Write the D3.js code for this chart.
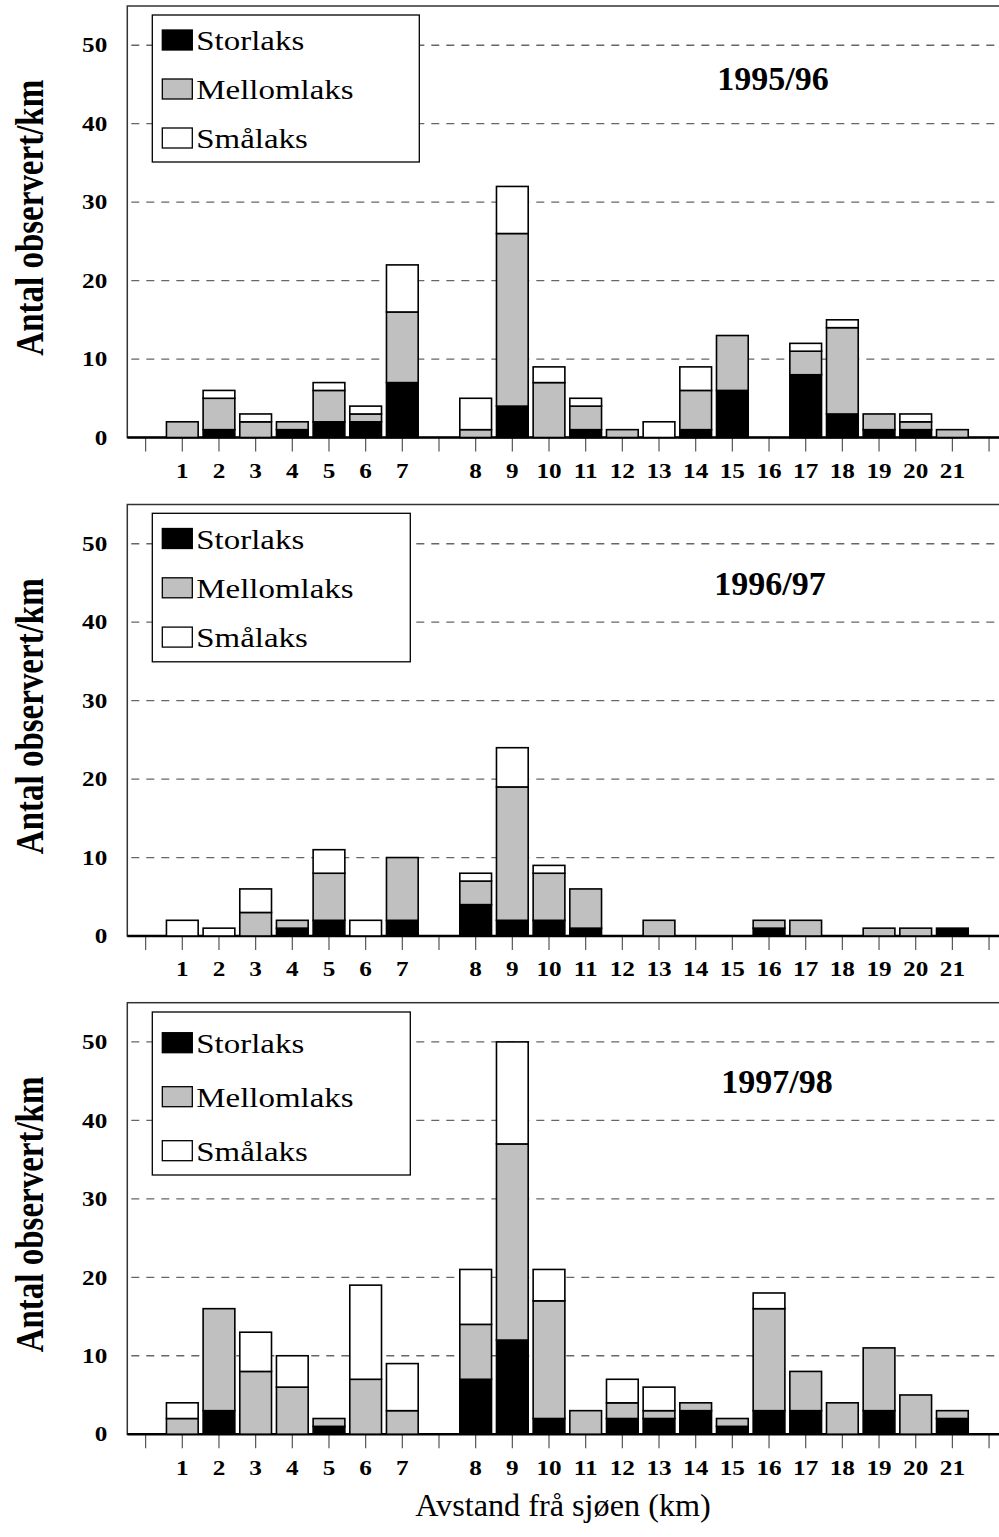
<!DOCTYPE html>
<html>
<head>
<meta charset="utf-8">
<title>Antal observert laks</title>
<script src="https://cdn.jsdelivr.net/npm/d3@7"></script>
<style>
  body { margin: 0; background: #fff; }
  svg { display: block; font-family: "Liberation Serif", "Times New Roman", serif; }
</style>
</head>
<body>
<script>
// x slots: empty slot before 1, between 7 and 8, and after 21
var slots = ["", "1", "2", "3", "4", "5", "6", "7", "", "8", "9", "10", "11", "12", "13", "14",
             "15", "16", "17", "18", "19", "20", "21", ""];
var km = ["1", "2", "3", "4", "5", "6", "7", "8", "9", "10", "11", "12", "13", "14",
          "15", "16", "17", "18", "19", "20", "21"];
var seriesNames = ["Storlaks", "Mellomlaks", "Smålaks"];
var seriesColors = ["#000000", "#c0c0c0", "#ffffff"];
var seasons = ["1995/96", "1996/97", "1997/98"];
var yTicks = [0, 10, 20, 30, 40, 50];

// 1995/96
var stor9596  = [0, 1, 0, 1, 2, 2, 7, 0, 4, 0, 1, 0, 0, 1, 6, 0, 8, 3, 1, 1, 0];
var mellom9596 = [2, 4, 2, 1, 4, 1, 9, 1, 22, 7, 3, 1, 0, 5, 7, 0, 3, 11, 2, 1, 1];
var smaa9596  = [0, 1, 1, 0, 1, 1, 6, 4, 6, 2, 1, 0, 2, 3, 0, 0, 1, 1, 0, 1, 0];
// 1996/97
var stor9697  = [0, 0, 0, 1, 2, 0, 2, 4, 2, 2, 1, 0, 0, 0, 0, 1, 0, 0, 0, 0, 1];
var mellom9697 = [0, 0, 3, 1, 6, 0, 8, 3, 17, 6, 5, 0, 2, 0, 0, 1, 2, 0, 1, 1, 0];
var smaa9697  = [2, 1, 3, 0, 3, 2, 0, 1, 5, 1, 0, 0, 0, 0, 0, 0, 0, 0, 0, 0, 0];
// 1997/98
var stor9798  = [0, 3, 0, 0, 1, 0, 0, 7, 12, 2, 0, 2, 2, 3, 1, 3, 3, 0, 3, 0, 2];
var mellom9798 = [2, 13, 8, 6, 1, 7, 3, 7, 25, 15, 3, 2, 1, 1, 1, 13, 5, 4, 8, 5, 1];
var smaa9798  = [2, 0, 5, 4, 0, 12, 6, 7, 13, 4, 0, 3, 3, 0, 0, 2, 0, 0, 0, 0, 0];

var panelData = [
    [stor9596, mellom9596, smaa9596],
    [stor9697, mellom9697, smaa9697],
    [stor9798, mellom9798, smaa9798]
];

// layout
var width = 999, height = 1537;
var plotLeft = 127.3, step = 36.67;
var plotRight = plotLeft + slots.length * step;
var panelTop = [6, 504.5, 1002.7];
var plotH = 431.5;
var legendBox = [
    {w: 267, h: 147, top: 9, row0: 34, gap: 49},
    {w: 258, h: 148.5, top: 8.8, row0: 34, gap: 49.3},
    {w: 258, h: 163, top: 9.3, row0: 40, gap: 54}
];
var yearPos = [{x: 773, y: 84}, {x: 770, y: 90}, {x: 777, y: 90}];
var stretch = 1.2;

var svg = d3.select("body").append("svg")
    .attr("width", width)
    .attr("height", height);

var x = d3.scaleBand()
    .domain(d3.range(slots.length))
    .range([plotLeft, plotRight])
    .paddingInner(0.135)
    .paddingOuter(0.0675);

function slotOf(k) {
    return slots.indexOf(k);
}

panelData.forEach(function(vals, p) {
    var top = panelTop[p];
    var base = top + plotH;
    var y = d3.scaleLinear().domain([0, 55]).range([base, top]);
    var g = svg.append("g");

    // frame
    g.append("rect")
        .attr("x", plotLeft)
        .attr("y", top)
        .attr("width", plotRight - plotLeft)
        .attr("height", plotH)
        .attr("fill", "none")
        .attr("stroke", "#333")
        .attr("stroke-width", 1.5);

    // dashed grid
    g.selectAll(".grid")
        .data(yTicks.slice(1))
        .enter()
        .append("line")
        .attr("class", "grid")
        .attr("x1", plotLeft + 4)
        .attr("x2", plotRight)
        .attr("y1", function(d) { return y(d); })
        .attr("y2", function(d) { return y(d); })
        .attr("stroke", "#666")
        .attr("stroke-width", 1.3)
        .attr("stroke-dasharray", "8,7");

    // y axis
    var yAxis = d3.axisLeft(y).tickValues(yTicks).tickSize(0).tickPadding(20);
    var ya = g.append("g")
        .attr("transform", "translate(" + plotLeft + ",0)")
        .call(yAxis);
    ya.select(".domain").remove();
    ya.selectAll("text")
        .attr("x", -20 / stretch)
        .attr("transform", "scale(" + stretch + ",1)")
        .style("font-family", "Liberation Serif")
        .style("font-size", "21px")
        .style("font-weight", "bold")
        .attr("fill", "#000");

    // x axis
    var xAxis = d3.axisBottom(x).tickSize(14).tickPadding(11.5)
        .tickFormat(function(i) { return slots[i]; });
    var xa = g.append("g")
        .attr("transform", "translate(0," + base + ")")
        .call(xAxis);
    xa.select(".domain").remove();
    xa.selectAll(".tick line").attr("stroke", "#555").attr("stroke-width", 1.2);
    xa.selectAll("text")
        .attr("transform", "scale(" + stretch + ",1)")
        .style("font-family", "Liberation Serif")
        .style("font-size", "21px")
        .style("font-weight", "bold")
        .attr("fill", "#000");

    // baseline
    g.append("line")
        .attr("x1", plotLeft)
        .attr("x2", plotRight)
        .attr("y1", base)
        .attr("y2", base)
        .attr("stroke", "#000")
        .attr("stroke-width", 2.5);

    // stacked bars
    var rows = km.map(function(k, i) {
        var r = {km: k};
        seriesNames.forEach(function(s, j) { r[s] = vals[j][i]; });
        return r;
    });
    var stacked = d3.stack().keys(seriesNames)(rows);

    var layers = g.selectAll(".layer")
        .data(stacked)
        .enter()
        .append("g")
        .attr("class", "layer")
        .attr("fill", function(d, i) { return seriesColors[i]; });

    layers.selectAll("rect")
        .data(function(d) { return d; })
        .enter()
        .append("rect")
        .attr("x", function(d) { return x(slotOf(d.data.km)); })
        .attr("width", x.bandwidth())
        .attr("y", function(d) { return y(d[1]); })
        .attr("height", function(d) { return y(d[0]) - y(d[1]); })
        .attr("stroke", "#000")
        .attr("stroke-width", 1.6);

    // legend
    var lb = legendBox[p];
    var lg = g.append("g").attr("transform", "translate(152.3," + (top + lb.top) + ")");
    lg.append("rect")
        .attr("width", lb.w)
        .attr("height", lb.h)
        .attr("fill", "#fff")
        .attr("stroke", "#000")
        .attr("stroke-width", 1.3);
    seriesNames.forEach(function(s, i) {
        var cy = lb.row0 - lb.top + i * lb.gap;
        lg.append("rect")
            .attr("x", 10)
            .attr("y", cy - 10)
            .attr("width", 30)
            .attr("height", 20)
            .attr("fill", seriesColors[i])
            .attr("stroke", "#000")
            .attr("stroke-width", 1.3);
        lg.append("text")
            .attr("transform", "translate(44," + (cy + 10) + ") scale(1.22,1)")
            .style("font-size", "27px")
            .attr("fill", "#000")
            .text(s);
    });

    // season label
    g.append("text")
        .attr("x", yearPos[p].x)
        .attr("y", top + yearPos[p].y)
        .attr("text-anchor", "middle")
        .style("font-size", "34px")
        .style("font-weight", "bold")
        .text(seasons[p]);

    // y title
    g.append("text")
        .attr("transform", "translate(43," + (top + plotH / 2 - 4) + ") rotate(-90) scale(1,1.2)")
        .attr("text-anchor", "middle")
        .style("font-size", "33px")
        .style("font-weight", "bold")
        .text("Antal observert/km");
});

// x title
svg.append("text")
    .attr("transform", "translate(563,1516) scale(1.04,1)")
    .attr("text-anchor", "middle")
    .style("font-size", "31px")
    .text("Avstand frå sjøen (km)");
</script>
</body>
</html>
